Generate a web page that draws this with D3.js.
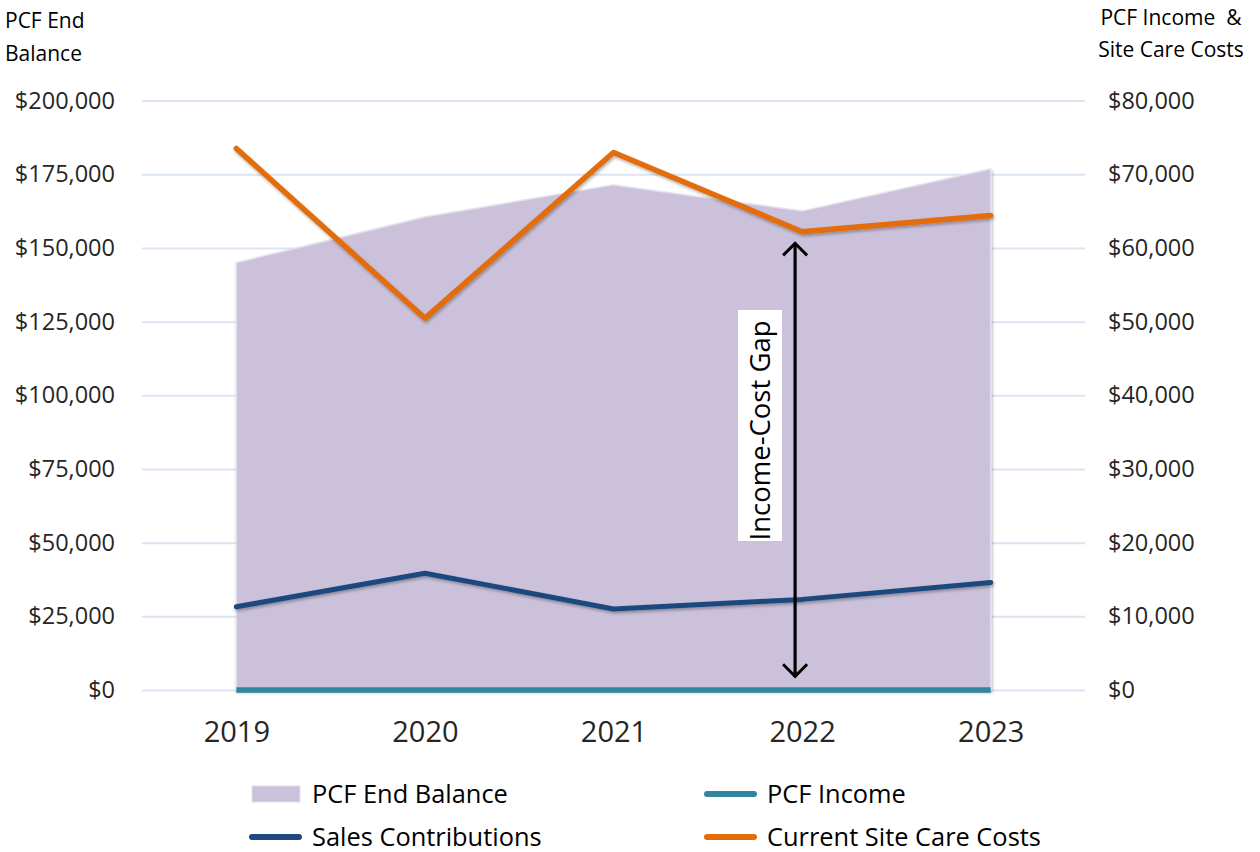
<!DOCTYPE html>
<html>
<head>
<meta charset="utf-8">
<script src="https://cdn.jsdelivr.net/npm/d3@7"></script>
<style>
  body { margin: 0; background: #fff; }
  text { font-family: "Open Sans", "Noto Sans", sans-serif; }
</style>
</head>
<body>
<div id="wrapper"></div>
<script>
// data
const years = ["2019", "2020", "2021", "2022", "2023"]
const endBalance = [145000, 160500, 171400, 162500, 176800]   // left axis
const pcfIncome = [0, 0, 0, 0, 0]                             // right axis
const salesContrib = [11300, 15850, 11000, 12300, 14600]      // right axis
const siteCareCosts = [73500, 50450, 72950, 62200, 64400]     // right axis
const leftTicks = [0, 25000, 50000, 75000, 100000, 125000, 150000, 175000, 200000]
const rightTicks = [0, 10000, 20000, 30000, 40000, 50000, 60000, 70000, 80000]
const gapYear = "2022"

function drawChart() {
  let dimensions = {
    width: 1260,
    height: 852,
    margin: { top: 100.6, right: 175, bottom: 162, left: 142 },
  }
  dimensions.boundedWidth = dimensions.width - dimensions.margin.left - dimensions.margin.right
  dimensions.boundedHeight = dimensions.height - dimensions.margin.top - dimensions.margin.bottom

  const svg = d3.select("#wrapper").append("svg")
      .attr("width", dimensions.width)
      .attr("height", dimensions.height)

  const defs = svg.append("defs")
  defs.append("filter").attr("id", "shadow")
      .attr("x", "-5%").attr("y", "-20%").attr("width", "110%").attr("height", "140%")
    .append("feDropShadow")
      .attr("dx", 1).attr("dy", 2).attr("stdDeviation", 1.5)
      .attr("flood-color", "#000").attr("flood-opacity", 0.3)
  // open chevron arrow head, pointing along +x
  defs.append("marker").attr("id", "chev")
      .attr("viewBox", "0 0 12 20").attr("refX", 10.5).attr("refY", 10)
      .attr("markerWidth", 5).attr("markerHeight", 8.5).attr("orient", "auto-start-reverse")
      .attr("markerUnits", "strokeWidth")
    .append("path")
      .attr("d", "M1,1 L10,10 L1,19")
      .attr("fill", "none").attr("stroke", "#000").attr("stroke-width", 2.2)

  const x = d3.scalePoint().domain(years)
      .range([dimensions.margin.left, dimensions.margin.left + dimensions.boundedWidth])
      .padding(0.5)
  const yLeft = d3.scaleLinear().domain([0, 200000])
      .range([dimensions.margin.top + dimensions.boundedHeight, dimensions.margin.top])
  const yRight = d3.scaleLinear().domain([0, 80000]).range(yLeft.range())

  const fmt = d3.format("$,")

  // grid + left axis
  const leftAxis = svg.append("g")
      .attr("transform", `translate(${dimensions.margin.left},0)`)
      .call(d3.axisLeft(yLeft).tickValues(leftTicks).tickFormat(fmt)
        .tickSize(-dimensions.boundedWidth).tickPadding(27))
  leftAxis.select(".domain").remove()
  leftAxis.selectAll(".tick line").attr("stroke", "#dbe5f1").attr("stroke-width", 2)
  leftAxis.selectAll(".tick text").attr("font-size", 23.5).attr("fill", "#262626")

  const rightAxis = svg.append("g")
      .attr("transform", `translate(${dimensions.margin.left + dimensions.boundedWidth},0)`)
      .call(d3.axisRight(yRight).tickValues(rightTicks).tickFormat(fmt)
        .tickSize(0).tickPadding(23))
  rightAxis.select(".domain").remove()
  rightAxis.selectAll(".tick text").attr("font-size", 23.5).attr("fill", "#262626")

  // area
  const area = d3.area()
      .x((d, i) => x(years[i]))
      .y0(yLeft(0))
      .y1(d => yLeft(d))
  svg.append("path").datum(endBalance)
      .attr("d", area)
      .attr("fill", "#cbc1da")
      .attr("stroke", "#e4dfec").attr("stroke-width", 1.5)
      .attr("filter", "url(#shadow)")

  const line = yScale => d3.line().x((d, i) => x(years[i])).y(d => yScale(d))

  svg.append("path").datum(pcfIncome)
      .attr("d", line(yRight))
      .attr("fill", "none").attr("stroke", "#31859c").attr("stroke-width", 5.5)

  svg.append("path").datum(salesContrib)
      .attr("d", line(yRight))
      .attr("fill", "none").attr("stroke", "#1f497d").attr("stroke-width", 5)
      .attr("stroke-linecap", "round").attr("stroke-linejoin", "round")
      .attr("filter", "url(#shadow)")

  svg.append("path").datum(siteCareCosts)
      .attr("d", line(yRight))
      .attr("fill", "none").attr("stroke", "#e36c0a").attr("stroke-width", 5.5)
      .attr("stroke-linecap", "round").attr("stroke-linejoin", "round")
      .attr("filter", "url(#shadow)")

  // x labels
  const xAxis = svg.append("g")
      .attr("transform", `translate(0,${yLeft(0)})`)
      .call(d3.axisBottom(x).tickSize(0).tickPadding(31))
  xAxis.select(".domain").remove()
  xAxis.selectAll(".tick text").attr("font-size", 29).attr("fill", "#262626")

  // gap annotation
  const gi = years.indexOf(gapYear)
  const gx = x(gapYear) - 7
  svg.append("line")
      .attr("x1", gx).attr("x2", gx)
      .attr("y1", yRight(siteCareCosts[gi]) + 11)
      .attr("y2", yLeft(0) - 13)
      .attr("stroke", "#000").attr("stroke-width", 3.2)
      .attr("marker-start", "url(#chev)").attr("marker-end", "url(#chev)")
  const lx = 760, ly = 425.5
  svg.append("rect")
      .attr("x", lx - 22).attr("y", ly - 115.5)
      .attr("width", 44).attr("height", 231)
      .attr("fill", "#fff")
  svg.append("text")
      .attr("transform", `translate(${lx + 10},${ly + 5}) rotate(-90)`)
      .attr("text-anchor", "middle")
      .attr("font-size", 27.5).attr("fill", "#000")
      .text("Income-Cost Gap")

  // axis titles
  const lt = svg.append("text").attr("font-size", 21).attr("fill", "#000")
  lt.append("tspan").attr("x", 5).attr("y", 28).text("PCF End")
  lt.append("tspan").attr("x", 5).attr("y", 61).text("Balance")
  const rt = svg.append("text").attr("font-size", 21).attr("fill", "#000").attr("text-anchor", "middle")
  rt.append("tspan").attr("x", 1171).attr("y", 25).text("PCF Income\u00a0 &")
  rt.append("tspan").attr("x", 1171).attr("y", 57).text("Site Care Costs")

  // legend
  const legendItems = [
    { name: "PCF End Balance", type: "area", color: "#cbc1da", col: 0, row: 0 },
    { name: "PCF Income", type: "line", color: "#31859c", col: 1, row: 0 },
    { name: "Sales Contributions", type: "line", color: "#1f497d", col: 0, row: 1 },
    { name: "Current Site Care Costs", type: "line", color: "#e36c0a", col: 1, row: 1 },
  ]
  const legend = svg.append("g")
  const items = legend.selectAll("g").data(legendItems).join("g")
      .attr("transform", d => `translate(${252 + d.col * 455},${794 + d.row * 43})`)
  items.filter(d => d.type === "area").append("rect")
      .attr("x", 0).attr("y", -8).attr("width", 48).attr("height", 16)
      .attr("fill", d => d.color).attr("stroke", "#e4dfec")
  items.filter(d => d.type === "line").append("line")
      .attr("x1", 0).attr("x2", 47).attr("y1", 0).attr("y2", 0)
      .attr("stroke", d => d.color).attr("stroke-width", 6).attr("stroke-linecap", "round")
  items.append("text")
      .attr("x", 60).attr("y", 0).attr("dy", "0.35em")
      .attr("font-size", 25.4).attr("fill", "#000")
      .text(d => d.name)
}

drawChart()
</script>
</body>
</html>
